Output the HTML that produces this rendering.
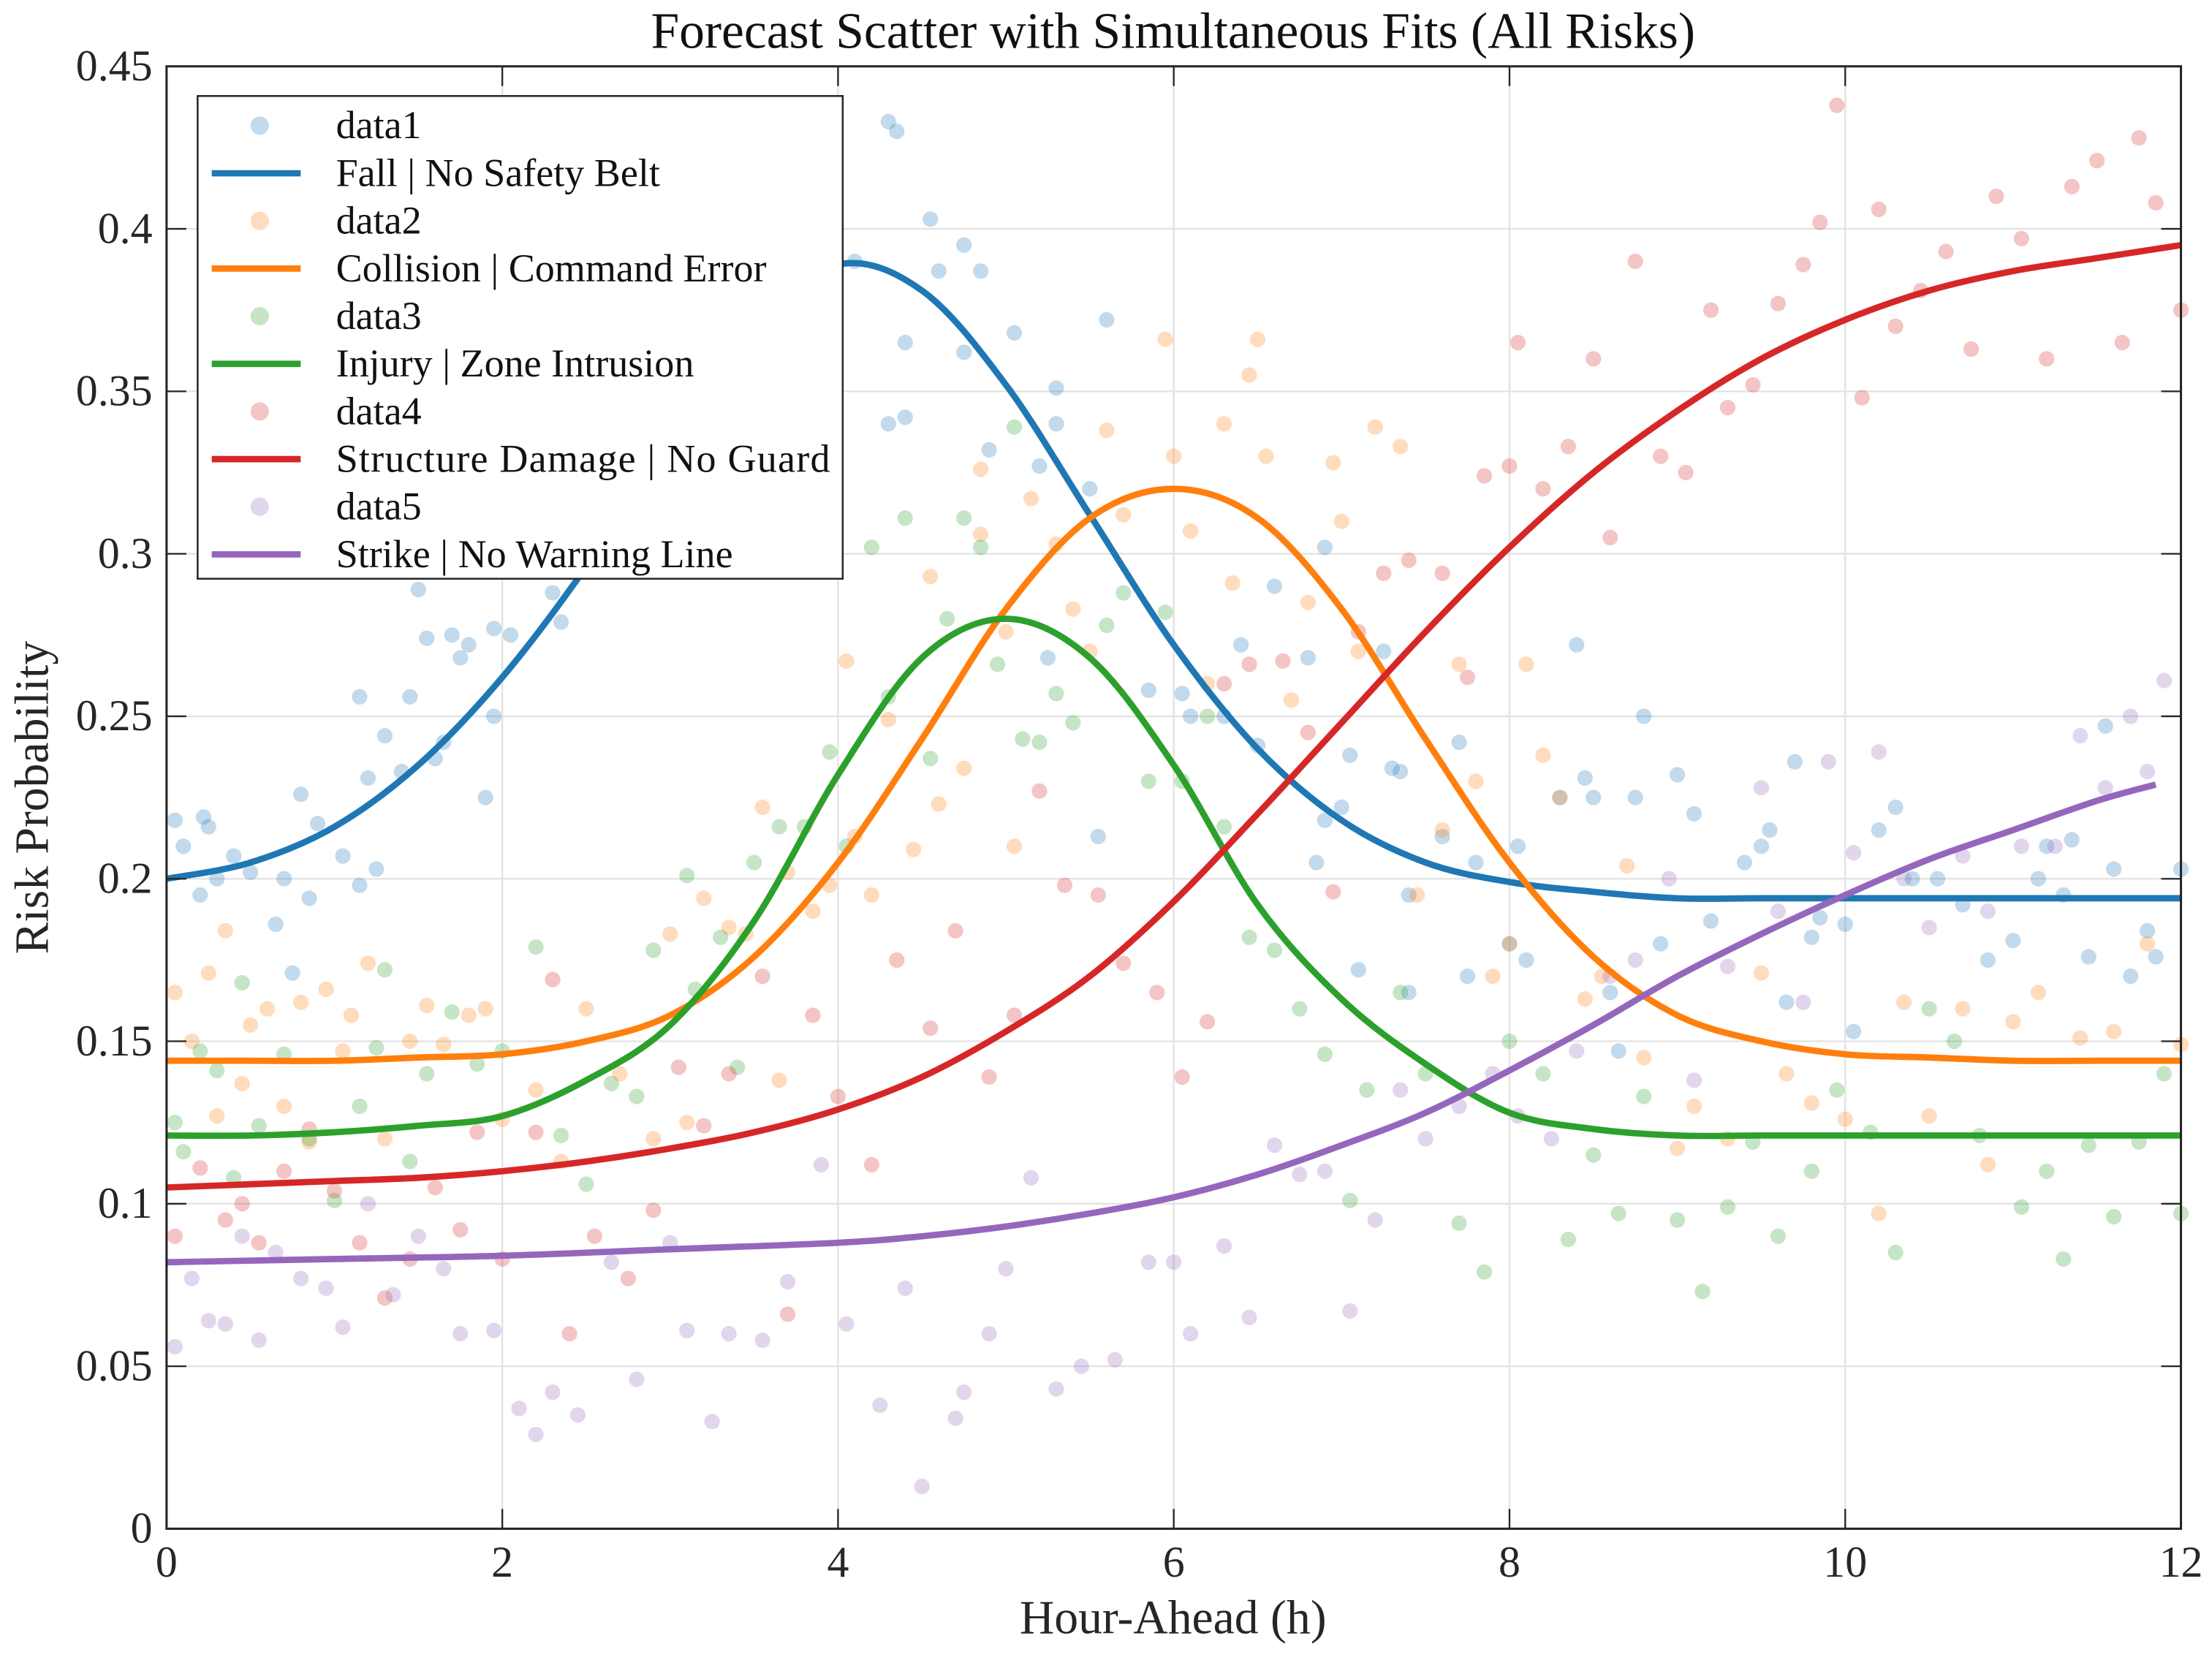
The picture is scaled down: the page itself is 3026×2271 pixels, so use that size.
<!DOCTYPE html>
<html><head><meta charset="utf-8"><style>
html,body{margin:0;padding:0;background:#fff}
svg{display:block;font-family:"Liberation Serif",serif}
</style></head><body>
<svg id="chart" width="3026" height="2271" viewBox="0 0 1567 1176" preserveAspectRatio="none" xmlns="http://www.w3.org/2000/svg">
<rect width="1567" height="1176" fill="#fff"/>
<g id="grid"></g><g id="marks"></g><g id="axes"></g><g id="legend"></g>
</svg>
<script>
const xTicks=[0,2,4,6,8,10,12];
const yTicks=[0,0.05,0.1,0.15,0.2,0.25,0.3,0.35,0.4,0.45];
const yTickLabels=["0","0.05","0.1","0.15","0.2","0.25","0.3","0.35","0.4","0.45"];
const seriesNames=["Fall | No Safety Belt","Collision | Command Error","Injury | Zone Intrusion","Structure Damage | No Guard","Strike | No Warning Line"];
const seriesColors=["#1f77b4","#ff7f0e","#2ca02c","#d62728","#9467bd"];
const fitX=[0,0.5,1,1.5,2,2.5,3,3.5,4,4.5,5,5.5,6,6.5,7,7.5,8,8.5,9,9.5,10,10.5,11,11.5,12];
const fitFall=[0.200,0.205,0.216,0.235,0.262,0.296,0.335,0.370,0.389,0.381,0.352,0.312,0.272,0.240,0.218,0.205,0.199,0.196,0.194,0.194,0.194,0.194,0.194,0.194,0.194];
const fitCollision=[0.144,0.144,0.144,0.145,0.146,0.150,0.158,0.176,0.205,0.243,0.283,0.311,0.320,0.311,0.283,0.243,0.205,0.176,0.158,0.150,0.146,0.145,0.144,0.144,0.144];
const fitInjury=[0.121,0.121,0.122,0.124,0.127,0.138,0.155,0.187,0.232,0.268,0.280,0.268,0.235,0.192,0.163,0.143,0.128,0.123,0.121,0.121,0.121,0.121,0.121,0.121,0.121];
const fitStructure=[0.105,0.106,0.107,0.108,0.110,0.113,0.117,0.122,0.129,0.139,0.153,0.170,0.193,0.220,0.248,0.276,0.302,0.325,0.344,0.360,0.372,0.381,0.387,0.391,0.395];
const fitStrikeX=[0,1,2,3,4,4.5,5,5.5,6,6.5,7,7.5,8,8.5,9,9.5,10,10.5,11,11.5,11.85];
const fitStrike=[0.082,0.083,0.084,0.086,0.088,0.090,0.093,0.097,0.102,0.109,0.118,0.128,0.141,0.155,0.170,0.183,0.195,0.206,0.215,0.224,0.229];
const d1x=[0.05,0.1,0.2,0.22,0.25,0.3,0.4,0.5,0.65,0.7,0.75,0.8,0.85,0.9,1.05,1.15,1.15,1.2,1.25,1.3,1.4,1.45,1.5,1.55,1.6,1.65,1.7,1.75,1.8,1.9,1.95,1.95,2.05,2.3,2.35,3.7,4.1,4.3,4.35,4.4,4.4,4.3,4.55,4.6,4.75,4.85,4.75,4.9,5.05,5.2,5.3,5.3,5.5,5.6,5.25,5.55,5.85,6.05,6.1,6.3,6.4,6.5,6.6,6.8,6.9,6.85,6.9,7.0,7.05,7.1,7.25,7.3,7.35,7.4,7.4,7.6,7.7,7.75,7.8,8.0,8.05,8.1,8.3,8.4,8.45,8.5,8.6,8.65,8.75,8.8,8.9,9.0,9.1,9.2,9.4,9.5,9.55,9.65,9.7,9.8,9.85,10.0,10.05,10.2,10.3,10.4,10.55,10.7,10.85,11.0,11.15,11.2,11.3,11.35,11.45,11.55,11.6,11.7,11.8,11.85,12.0];
const d1y=[0.218,0.21,0.195,0.219,0.216,0.2,0.207,0.202,0.186,0.2,0.171,0.226,0.194,0.217,0.207,0.198,0.256,0.231,0.203,0.244,0.233,0.256,0.289,0.274,0.237,0.242,0.275,0.268,0.272,0.225,0.25,0.277,0.275,0.288,0.279,0.32,0.39,0.433,0.43,0.365,0.342,0.34,0.403,0.387,0.395,0.387,0.362,0.332,0.368,0.327,0.351,0.34,0.32,0.372,0.268,0.213,0.258,0.257,0.25,0.25,0.272,0.241,0.29,0.268,0.302,0.205,0.218,0.222,0.238,0.172,0.27,0.234,0.233,0.195,0.165,0.213,0.242,0.17,0.205,0.18,0.21,0.175,0.225,0.272,0.231,0.225,0.165,0.147,0.225,0.25,0.18,0.232,0.22,0.187,0.205,0.21,0.215,0.162,0.236,0.182,0.188,0.186,0.153,0.215,0.222,0.2,0.2,0.192,0.175,0.181,0.2,0.21,0.195,0.212,0.176,0.247,0.203,0.17,0.184,0.176,0.203];
const d2x=[0.05,0.15,0.25,0.3,0.35,0.45,0.5,0.6,0.7,0.8,0.85,0.95,1.05,1.1,1.2,1.3,1.45,1.55,1.65,1.8,1.9,2.0,2.2,2.35,2.5,2.7,2.9,3.0,3.1,3.2,3.35,3.45,3.55,3.65,3.7,3.85,3.95,4.05,4.1,4.2,4.3,4.45,4.55,4.6,4.75,4.85,4.85,5.0,5.05,5.15,5.3,5.4,5.5,5.6,5.7,5.95,6.0,6.1,6.2,6.3,6.35,6.45,6.5,6.55,6.7,6.8,6.95,7.0,7.1,7.2,7.35,7.45,7.6,7.7,7.8,7.9,8.0,8.1,8.2,8.3,8.45,8.55,8.7,8.8,9.0,9.1,9.3,9.5,9.65,9.8,10.0,10.2,10.35,10.5,10.7,10.85,11.0,11.15,11.4,11.6,11.8,12.0];
const d2y=[0.165,0.15,0.171,0.127,0.184,0.137,0.155,0.16,0.13,0.162,0.119,0.166,0.147,0.158,0.174,0.12,0.15,0.161,0.149,0.158,0.16,0.126,0.135,0.113,0.16,0.14,0.12,0.183,0.125,0.194,0.185,0.183,0.222,0.138,0.202,0.19,0.198,0.267,0.213,0.195,0.249,0.209,0.293,0.223,0.234,0.306,0.326,0.276,0.21,0.317,0.303,0.283,0.27,0.338,0.312,0.366,0.33,0.307,0.26,0.34,0.291,0.355,0.366,0.33,0.255,0.285,0.328,0.31,0.27,0.339,0.333,0.195,0.215,0.266,0.23,0.17,0.18,0.266,0.238,0.225,0.163,0.17,0.204,0.145,0.117,0.13,0.12,0.171,0.14,0.131,0.126,0.097,0.162,0.127,0.16,0.112,0.156,0.165,0.151,0.153,0.18,0.149];
const d3x=[0.05,0.1,0.2,0.3,0.4,0.45,0.55,0.7,0.85,1.0,1.15,1.25,1.3,1.45,1.55,1.7,1.85,2.0,2.2,2.35,2.5,2.65,2.8,2.9,3.1,3.15,3.3,3.4,3.5,3.65,3.8,3.95,4.05,4.2,4.3,4.4,4.55,4.65,4.75,4.85,4.95,5.05,5.1,5.2,5.3,5.4,5.6,5.7,5.85,5.95,6.05,6.2,6.3,6.45,6.6,6.75,6.9,7.05,7.15,7.35,7.5,7.7,7.85,8.0,8.2,8.35,8.5,8.65,8.8,9.0,9.15,9.3,9.45,9.6,9.8,9.95,10.15,10.3,10.5,10.65,10.8,11.05,11.2,11.3,11.45,11.6,11.75,11.9,12.0];
const d3y=[0.125,0.116,0.147,0.141,0.108,0.168,0.124,0.146,0.12,0.101,0.13,0.148,0.172,0.113,0.14,0.159,0.143,0.147,0.179,0.121,0.106,0.137,0.133,0.178,0.201,0.166,0.182,0.142,0.205,0.216,0.216,0.239,0.21,0.302,0.256,0.311,0.237,0.28,0.311,0.302,0.266,0.339,0.243,0.242,0.257,0.248,0.278,0.288,0.23,0.282,0.23,0.25,0.216,0.182,0.178,0.16,0.146,0.101,0.135,0.165,0.14,0.094,0.079,0.15,0.14,0.089,0.115,0.097,0.133,0.095,0.073,0.099,0.119,0.09,0.11,0.135,0.122,0.085,0.16,0.15,0.121,0.099,0.11,0.083,0.118,0.096,0.119,0.14,0.097];
const d4x=[0.05,0.2,0.35,0.45,0.55,0.7,0.85,1.0,1.15,1.3,1.45,1.6,1.75,1.85,2.0,2.2,2.3,2.4,2.55,2.75,2.9,3.05,3.2,3.35,3.55,3.7,3.85,4.0,4.2,4.35,4.55,4.7,4.9,5.05,5.2,5.35,5.55,5.7,5.9,6.05,6.2,6.3,6.45,6.65,6.8,6.95,7.1,7.25,7.4,7.6,7.75,7.85,8.0,8.05,8.2,8.35,8.5,8.6,8.75,8.9,9.05,9.2,9.3,9.45,9.6,9.75,9.85,9.95,10.1,10.2,10.3,10.45,10.6,10.75,10.9,11.05,11.2,11.35,11.5,11.65,11.75,11.85,12.0];
const d4y=[0.09,0.111,0.095,0.1,0.088,0.11,0.123,0.104,0.088,0.071,0.083,0.105,0.092,0.122,0.083,0.122,0.169,0.06,0.09,0.077,0.098,0.142,0.124,0.14,0.17,0.066,0.158,0.133,0.112,0.175,0.154,0.184,0.139,0.158,0.227,0.198,0.195,0.174,0.165,0.139,0.156,0.26,0.266,0.267,0.245,0.196,0.276,0.294,0.298,0.294,0.262,0.324,0.327,0.365,0.32,0.333,0.36,0.305,0.39,0.33,0.325,0.375,0.345,0.352,0.377,0.389,0.402,0.438,0.348,0.406,0.37,0.381,0.393,0.363,0.41,0.397,0.36,0.413,0.421,0.365,0.428,0.408,0.375];
const d5x=[0.05,0.15,0.25,0.35,0.45,0.55,0.65,0.8,0.95,1.05,1.2,1.35,1.5,1.65,1.75,1.95,2.1,2.2,2.3,2.45,2.65,2.8,3.0,3.1,3.25,3.35,3.55,3.7,3.9,4.05,4.25,4.4,4.5,4.7,4.75,4.9,5.0,5.15,5.3,5.45,5.65,5.85,6.0,6.1,6.3,6.45,6.6,6.75,6.9,7.05,7.2,7.35,7.5,7.7,7.9,8.05,8.25,8.4,8.6,8.75,8.95,9.1,9.3,9.5,9.6,9.75,9.9,10.05,10.2,10.35,10.5,10.7,10.85,11.05,11.25,11.4,11.55,11.7,11.8,11.9];
const d5y=[0.056,0.077,0.064,0.063,0.09,0.058,0.085,0.077,0.074,0.062,0.1,0.072,0.09,0.08,0.06,0.061,0.037,0.029,0.042,0.035,0.082,0.046,0.088,0.061,0.033,0.06,0.058,0.076,0.112,0.063,0.038,0.074,0.013,0.034,0.042,0.06,0.08,0.108,0.043,0.05,0.052,0.082,0.082,0.06,0.087,0.065,0.118,0.109,0.11,0.067,0.095,0.135,0.12,0.13,0.14,0.127,0.12,0.147,0.17,0.175,0.2,0.138,0.173,0.228,0.19,0.162,0.236,0.208,0.239,0.2,0.185,0.207,0.19,0.21,0.21,0.244,0.228,0.25,0.233,0.261];

const NS="http://www.w3.org/2000/svg";
const L=118,R=1545,T=47,B=1083;
const sx=v=>L+(v-0)/(12-0)*(R-L);
const sy=v=>B-(v-0)/(0.45-0)*(B-T);
function mk(tag,attrs,parent){const e=document.createElementNS(NS,tag);for(const k in attrs)e.setAttribute(k,attrs[k]);parent.appendChild(e);return e;}
const grid=document.getElementById('grid'),marks=document.getElementById('marks'),axes=document.getElementById('axes'),legend=document.getElementById('legend');

xTicks.forEach((t,i)=>{
  const g=mk('line',{x1:sx(t),x2:sx(t),y1:T,y2:B,stroke:'#e2e2e2','stroke-width':1.2},grid);
  
  
  mk('line',{x1:sx(t),x2:sx(t),y1:B,y2:B-14,stroke:'#262626','stroke-width':1.2},axes);
  mk('line',{x1:sx(t),x2:sx(t),y1:T,y2:T+14,stroke:'#262626','stroke-width':1.2},axes);
  const tx=mk('text',{x:sx(t),y:B+34,'text-anchor':'middle','font-size':31,fill:'#262626'},axes);
  tx.textContent=String(t);
  
  
});
yTicks.forEach((t,i)=>{
  const g=mk('line',{x1:L,x2:R,y1:sy(t),y2:sy(t),stroke:'#e2e2e2','stroke-width':1.2},grid);
  
  
  mk('line',{x1:L,x2:L+14,y1:sy(t),y2:sy(t),stroke:'#262626','stroke-width':1.2},axes);
  mk('line',{x1:R,x2:R-14,y1:sy(t),y2:sy(t),stroke:'#262626','stroke-width':1.2},axes);
  const tx=mk('text',{x:L-10,y:sy(t)+10,'text-anchor':'end','font-size':31,fill:'#262626'},axes);
  tx.textContent=yTickLabels[i];
  
  
});
const box=mk('rect',{x:L,y:T,width:R-L,height:B-T,fill:'none',stroke:'#262626','stroke-width':1.6},axes);


const title=mk('text',{x:831,y:34,'text-anchor':'middle','font-size':36,fill:'#111'},axes);
title.textContent='Forecast Scatter with Simultaneous Fits (All Risks)';


const xl=mk('text',{x:831,y:1157,'text-anchor':'middle','font-size':34,fill:'#262626'},axes);
xl.textContent='Hour-Ahead (h)';


const yl=mk('text',{x:0,y:0,'text-anchor':'middle','font-size':34,fill:'#262626',transform:'translate(34,565) rotate(-90)'},axes);
yl.textContent='Risk Probability';



function smooth(xs,ys){
  const p=xs.map((x,i)=>[sx(x),sy(ys[i])]);
  let d='M'+p[0][0]+','+p[0][1];
  for(let i=0;i<p.length-1;i++){
    const p0=p[i-1]||p[i],p1=p[i],p2=p[i+1],p3=p[i+2]||p2;
    const c1=[p1[0]+(p2[0]-p0[0])/6,p1[1]+(p2[1]-p0[1])/6];
    const c2=[p2[0]-(p3[0]-p1[0])/6,p2[1]-(p3[1]-p1[1])/6];
    d+=' C'+c1[0]+','+c1[1]+' '+c2[0]+','+c2[1]+' '+p2[0]+','+p2[1];
  }
  return d;
}
const scat=[[d1x,d1y],[d2x,d2y],[d3x,d3y],[d4x,d4y],[d5x,d5y]];
const fits=[[fitX,fitFall],[fitX,fitCollision],[fitX,fitInjury],[fitX,fitStructure],[fitStrikeX,fitStrike]];
scat.forEach((s,k)=>{
  const g=mk('g',{},marks);
  
  
  s[0].forEach((x,i)=>{
    const c=mk('circle',{cx:sx(x),cy:sy(s[1][i]),r:5.5,fill:seriesColors[k],'fill-opacity':0.27},g);
    
    
  });
});
fits.forEach((f,k)=>{
  const p=mk('path',{d:smooth(f[0],f[1]),fill:'none',stroke:seriesColors[k],'stroke-width':4.5,'stroke-linejoin':'round'},marks);
  
  
});
const lb=mk('rect',{x:140,y:68,width:457,height:342,fill:'#fff',stroke:'#262626','stroke-width':1.3},legend);


for(let k=0;k<5;k++){
  const y1=89+k*67.5,y2=y1+33.75;
  const c=mk('circle',{cx:184,cy:y1,r:6.5,fill:seriesColors[k],'fill-opacity':0.27},legend);
  
  
  const t1=mk('text',{x:238,y:y1+9,'font-size':28,fill:'#111'},legend);
  t1.textContent='data'+(k+1);
  
  
  const ln=mk('line',{x1:150,x2:213,y1:y2,y2:y2,stroke:seriesColors[k],'stroke-width':4.5},legend);
  
  
  const t2=mk('text',{x:238,y:y2+9,'font-size':28,fill:'#111',textLength:k==3?350:null},legend);
  t2.textContent=seriesNames[k];
  
  
}
</script>
</body></html>
